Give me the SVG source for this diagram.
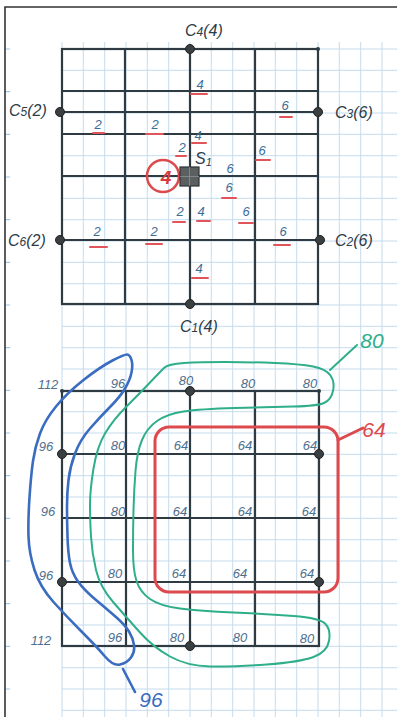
<svg xmlns="http://www.w3.org/2000/svg" width="397" height="717" viewBox="0 0 397 717">
<defs>
<style>
.paper{stroke:#c3dcee;stroke-width:1;fill:none}
.tick{stroke:#9cc4e4;stroke-width:1.2}
.heavy{stroke:#2e3b42;stroke-width:2.2;fill:none;stroke-linecap:round}
.dot{fill:#3a3f42;stroke:#222;stroke-width:1}
.lab{font-family:"Liberation Sans","DejaVu Sans",sans-serif;font-style:italic;font-size:16px;fill:#2d3c48}
.w{font-family:"Liberation Sans","DejaVu Sans",sans-serif;font-style:italic;font-size:13px;fill:#3c6e98;text-anchor:middle}
.ul{stroke:#e0545a;stroke-width:2;stroke-linecap:round}
.v{font-family:"Liberation Sans","DejaVu Sans",sans-serif;font-style:italic;font-size:13px;fill:#4e6f8e;text-anchor:middle}
.blue{stroke:#3a6cc0;stroke-width:2.6;fill:none;stroke-linejoin:round;stroke-linecap:round}
.green{stroke:#2fae8a;stroke-width:2;fill:none;stroke-linejoin:round;stroke-linecap:round}
.red{stroke:#dc4a4e;stroke-width:3;fill:none;stroke-linecap:round}
.big{font-family:"Liberation Sans","DejaVu Sans",sans-serif;font-style:italic;font-size:21px;text-anchor:middle}
</style>
</defs>
<rect width="397" height="717" fill="#ffffff"/>
<g id="paper">
<g class="paper">
<path d="M62 42V717M83.3 42V717M104.7 42V717M126 42V717M147.3 42V717M168.7 42V717M190 42V717M211.3 42V717M232.7 42V717M254 42V717M275.3 42V717M296.7 42V717M318 42V717M339.3 42V717M360.7 42V717M382 42V717"/>
<path d="M62 49H397M62 70.3H397M62 91.7H397M62 113H397M62 134.3H397M62 155.7H397M62 177H397M62 198.3H397M62 219.7H397M62 241H397M62 262.3H397M62 283.7H397M62 305H397M62 326.3H397M62 347.7H397M62 369H397M62 390.3H397M62 411.7H397M62 433H397M62 454.3H397M62 475.7H397M62 497H397M62 518.3H397M62 539.7H397M62 561H397M62 582.3H397M62 603.7H397M62 625H397M62 646.3H397M62 667.7H397M62 689H397M62 710.3H397"/>
</g>
<path class="tick" d="M6 49H10M6 91.7H10M6 134.3H10M6 177H10M6 219.7H10M6 262.3H10M6 305H10M6 347.7H10M6 390.3H10M6 433H10M6 475.7H10M6 518.3H10M6 561H10M6 603.7H10M6 646.3H10M6 689H10"/>
<path d="M5 717V7H397" stroke="#333" stroke-width="1.6" fill="none"/>
</g>
<g id="top-grid">
<rect class="heavy" x="62" y="49" width="256" height="255"/>
<path class="heavy" d="M125 49V304M190 49V304M255 49V304M62 91H318M62 112H318M62 134H318M62 176H318M62 240H318"/>
</g>
<g id="top-weights">
<path class="ul" d="M191 94H207M280 117H292M93 133H104M146 134H163M192 143H206M176 156H186M256 160H270M222 198H236M173 222H185M197 221H210M239 223H253M90 247H107M146 244H162M274 245H290M192 278H208"/>
<text class="w" x="200" y="89">4</text>
<text class="w" x="285" y="110">6</text>
<text class="w" x="98" y="129">2</text>
<text class="w" x="155" y="129">2</text>
<text class="w" x="198" y="140">4</text>
<text class="w" x="182" y="152">2</text>
<text class="w" x="262" y="155">6</text>
<text class="w" x="230" y="173">6</text>
<text class="w" x="229" y="192">6</text>
<text class="w" x="180" y="216">2</text>
<text class="w" x="201" y="216">4</text>
<text class="w" x="246" y="216">6</text>
<text class="w" x="97" y="236">2</text>
<text class="w" x="154" y="236">2</text>
<text class="w" x="283" y="236">6</text>
<text class="w" x="199" y="273">4</text>
</g>
<g id="sensor-S1">
<circle cx="163" cy="176" r="16" fill="none" stroke="#dc4a4e" stroke-width="2.5"/>
<text x="166" y="184" font-family="Liberation Sans, DejaVu Sans, sans-serif" font-weight="bold" font-style="italic" font-size="19" fill="#d63c40" text-anchor="middle">4</text>
<rect x="180" y="167" width="19" height="19" fill="#5b5f60" stroke="#2e3336" stroke-width="1.2"/>
<path d="M180 176.5H199M189.5 167V186" stroke="#8a9092" stroke-width="0.8"/>
<text class="lab" x="195" y="164" font-style="normal" fill="#1e2a30">S<tspan font-size="11" dy="2">1</tspan></text>
</g>
<g id="top-nodes">
<g id="C4"><circle class="dot" cx="190" cy="49" r="4.5"/><text class="lab" x="185" y="36">C<tspan font-size="12">4</tspan>(4)</text></g>
<g id="C5"><circle class="dot" cx="60" cy="112" r="4.5"/><text class="lab" x="9" y="116">C<tspan font-size="12">5</tspan>(2)</text></g>
<g id="C3"><circle class="dot" cx="318" cy="112" r="4.5"/><text class="lab" x="335" y="118">C<tspan font-size="12">3</tspan>(6)</text></g>
<g id="C6"><circle class="dot" cx="60" cy="240" r="4.5"/><text class="lab" x="8" y="246">C<tspan font-size="12">6</tspan>(2)</text></g>
<g id="C2"><circle class="dot" cx="320" cy="240" r="4.5"/><text class="lab" x="335" y="246">C<tspan font-size="12">2</tspan>(6)</text></g>
<g id="C1"><circle class="dot" cx="190" cy="304" r="4.5"/><text class="lab" x="180" y="332">C<tspan font-size="12">1</tspan>(4)</text></g>
<circle cx="318" cy="49" r="2" fill="#2e3b42"/>
</g>
<g id="bottom-grid">
<rect class="heavy" x="62" y="391" width="257" height="255"/>
<path class="heavy" d="M126 391V646M190 391V646M255 391V646M62 454H319M62 518H319M62 582H319"/>
<circle class="dot" cx="190" cy="391" r="4.5"/>
<circle class="dot" cx="62" cy="454" r="4.5"/>
<circle class="dot" cx="319" cy="454" r="4.5"/>
<circle class="dot" cx="62" cy="582" r="4.5"/>
<circle class="dot" cx="319" cy="582" r="4.5"/>
<circle class="dot" cx="190" cy="646" r="4.5"/>
<circle cx="62" cy="391" r="2" fill="#2e3b42"/>
<circle cx="319" cy="391" r="2" fill="#2e3b42"/>
</g>
<g id="bottom-values">
<text class="v" x="48" y="389">112</text><text class="v" x="118" y="388">96</text><text class="v" x="186" y="385">80</text><text class="v" x="248" y="388">80</text><text class="v" x="310" y="388">80</text>
<text class="v" x="46" y="451">96</text><text class="v" x="118" y="450">80</text><text class="v" x="181" y="450">64</text><text class="v" x="245" y="450">64</text><text class="v" x="310" y="450">64</text>
<text class="v" x="48" y="516">96</text><text class="v" x="118" y="516">80</text><text class="v" x="180" y="516">64</text><text class="v" x="245" y="516">64</text><text class="v" x="309" y="516">64</text>
<text class="v" x="46" y="580">96</text><text class="v" x="115" y="578">80</text><text class="v" x="179" y="578">64</text><text class="v" x="240" y="578">64</text><text class="v" x="307" y="578">64</text>
<text class="v" x="41" y="645">112</text><text class="v" x="115" y="642">96</text><text class="v" x="177" y="642">80</text><text class="v" x="240" y="642">80</text><text class="v" x="307" y="643">80</text>
</g>
<g id="contours">
<g id="contour-96">
<path class="blue" d="M127.5 354.5Q125 354 112.5 360.5Q100 367 83.5 380Q67 393 56 406.5Q45 420 40 433.5Q35 447 33 461Q31 475 29.5 497.5Q28 520 28.5 536.5Q29 553 34.5 570Q40 587 53.5 602Q67 617 82 632Q97 647 105 656.5Q113 666 120 664.5Q127 663 131 657.5Q135 652 134 645Q133 638 129 631.5Q125 625 116.5 617.5Q108 610 96 600Q84 590 78 581.5Q72 573 70 563Q68 553 67.5 536.5Q67 520 67 506.5Q67 493 68.5 480Q70 467 75 453.5Q80 440 90 428.5Q100 417 110 407Q120 397 125 388.5Q130 380 131.5 372.5Q133 365 131.5 360Q130 355 127.5 354.5Z"/>
<path class="blue" d="M123 669L135 692"/>
<text class="big" x="151" y="707" fill="#3a6cc0" font-style="normal">96</text>
</g>
<g id="contour-80">
<path class="green" d="M164 368Q168 364 184 363Q200 362 225 362Q250 362 275 363Q300 364 313 366.5Q326 369 330.5 375.5Q335 382 333 391Q331 400 324 403Q317 406 293.5 406.5Q270 407 235 408Q200 409 183.5 411.5Q167 414 157 421Q147 428 142 440Q137 452 135.5 471Q134 490 133.5 510Q133 530 133 550Q133 570 136.5 581Q140 592 150 599Q160 606 180 608.5Q200 611 233.5 612.5Q267 614 293.5 616Q320 618 325.5 624Q331 630 329 641Q327 652 313.5 657Q300 662 266.5 664.5Q233 667 210 666.5Q187 666 170 656.5Q153 647 140 632.5Q127 618 113.5 602.5Q100 587 96 570Q92 553 91 536.5Q90 520 90 505Q90 490 93.5 468.5Q97 447 105 433.5Q113 420 126.5 406.5Q140 393 150 382.5Q160 372 164 368Z"/>
<path class="green" d="M330 370L357 345"/>
<text class="big" x="372" y="348" fill="#2fae8a">80</text>
</g>
<g id="contour-64">
<rect class="red" x="155" y="427" width="183" height="165" rx="14"/>
<path class="red" d="M338 440L363 428" stroke-width="2.4"/>
<text class="big" x="374" y="437" fill="#dc4a4e">64</text>
</g>
</g>
</svg>
